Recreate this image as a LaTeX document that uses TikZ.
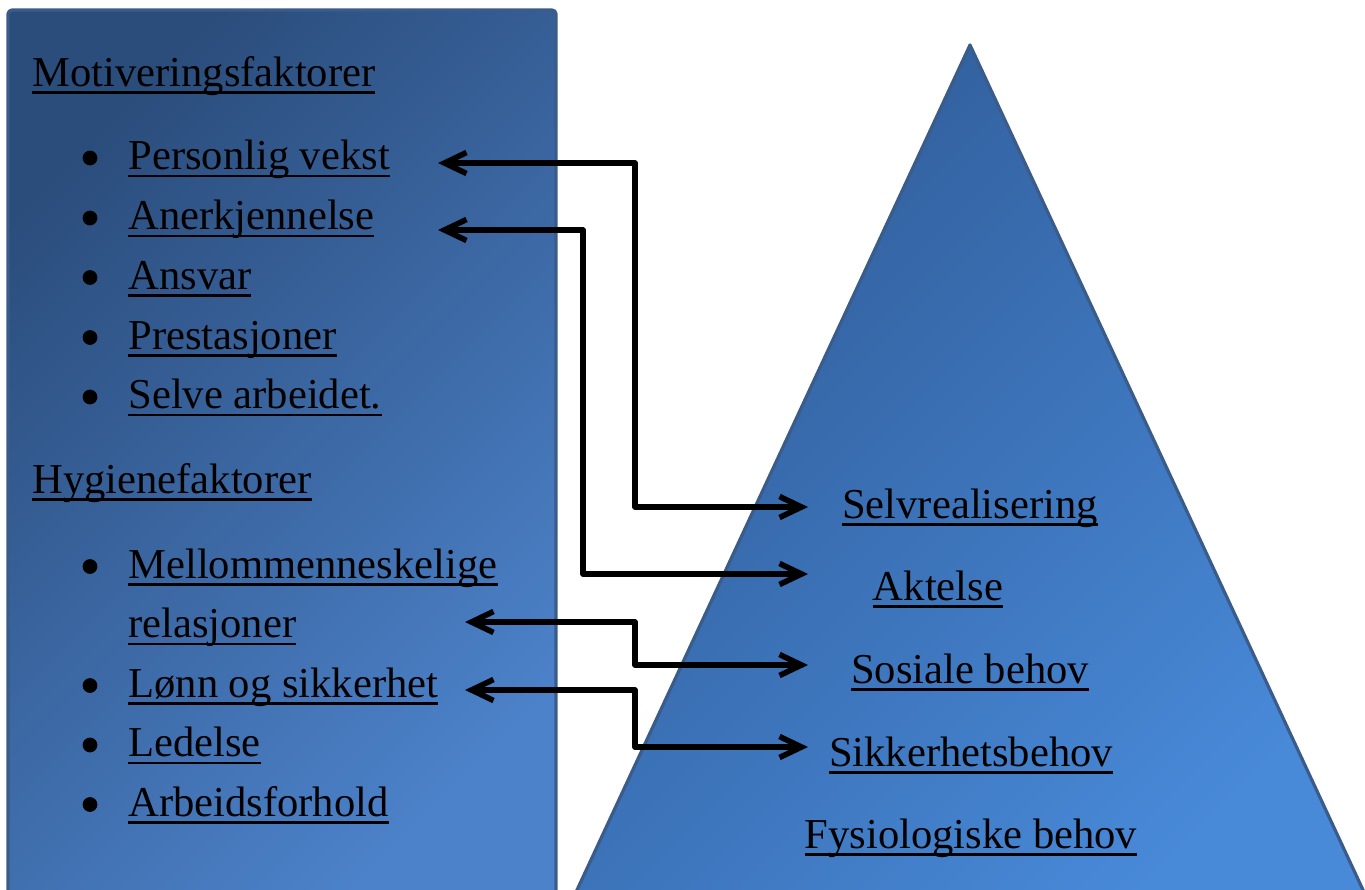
\documentclass[tikz,border=0pt]{standalone}
\usepackage{fontspec}
\setmainfont{Liberation Serif}
\usetikzlibrary{arrows.meta}

\definecolor{boxdark}{RGB}{43,77,124}
\definecolor{boxlight}{RGB}{76,130,202}
\definecolor{tridark}{RGB}{48,92,152}
\definecolor{trilight}{RGB}{72,137,216}
\definecolor{edgeblue}{RGB}{58,92,138}

% underline close under the baseline
\newcommand\ulword[1]{\setbox0\hbox{#1}\rlap{\rule[-3.9pt]{\wd0}{1.3pt}}\box0}

\begin{document}
\begin{tikzpicture}[
	x=0.5pt, y=-0.5pt,
	txt/.style={inner sep=0pt, font=\fontsize{21.3pt}{25pt}\selectfont},
	item/.style={txt, anchor=base west},
	need/.style={txt, anchor=base},
	panel/.style={line width=1.6pt, draw=edgeblue, line join=round, top color=#1dark, bottom color=#1light, shading angle=45},
	link/.style={>={Straight Barb[length=11pt,width=10.5pt]}, <->, line width=2.8pt, line join=round, line cap=round}
	]
	\useasboundingbox (0,0) rectangle (1365,889);
	\clip (0,0) rectangle (1365,889);

	% Panels
	\draw[panel=box, rounded corners=2pt] (8,10) rectangle (556,905);
	\draw[panel=tri] (970,45) -- (1370,905) -- (570,905) -- cycle;

	% Left list
	\node[item] (motiv) at (32,86) {\ulword{Motiveringsfaktorer}};
	\node[item] (vekst) at (128,169.5) {\ulword{Personlig vekst}};
	\node[item] (anerk) at (128,229.5) {\ulword{Anerkjennelse}};
	\node[item] (ansvar) at (128,289) {\ulword{Ansvar}};
	\node[item] (prest) at (128,349) {\ulword{Prestasjoner}};
	\node[item] (arbeid) at (128,408.5) {\ulword{Selve arbeidet.}};
	\node[item] (hygiene) at (32,493) {\ulword{Hygienefaktorer}};
	\node[item] (mellom) at (128,578) {\ulword{Mellommenneskelige}};
	\node[item] (relasj) at (128,637.5) {\ulword{relasjoner}};
	\node[item] (lonn) at (128,697) {\ulword{Lønn og sikkerhet}};
	\node[item] (ledelse) at (128,756.5) {\ulword{Ledelse}};
	\node[item] (arbforh) at (128,816) {\ulword{Arbeidsforhold}};

	\foreach \n in {vekst,anerk,ansvar,prest,arbeid,mellom,lonn,ledelse,arbforh}
		\fill ([xshift=-19pt,yshift=5.75pt]\n.base west) circle (3.7pt);

	% Pyramid levels
	\node[need] (selv) at (970,518) {\ulword{Selvrealisering}};
	\node[need] (aktelse) at (938,600) {\ulword{Aktelse}};
	\node[need] (sosial) at (970,683) {\ulword{Sosiale behov}};
	\node[need] (sikker) at (971,766) {\ulword{Sikkerhetsbehov}};
	\node[need] (fysio) at (971,848) {\ulword{Fysiologiske behov}};

	% Arrow ends
	\coordinate (colA) at (635,0);
	\coordinate (colB) at (583,0);
	\coordinate (vekstEnd) at (438,163);
	\coordinate (anerkEnd) at (438,230);
	\coordinate (relasjEnd) at (465,622);
	\coordinate (lonnEnd) at (465,690);
	\coordinate (selvEnd) at (808,507);
	\coordinate (aktelseEnd) at (808,574);
	\coordinate (sosialEnd) at (808,665);
	\coordinate (sikkerEnd) at (808,747);

	% Arrows
	\draw[link] (vekstEnd) -| (colA |- selvEnd) -- (selvEnd);
	\draw[link] (anerkEnd) -| (colB |- aktelseEnd) -- (aktelseEnd);
	\draw[link] (relasjEnd) -| (colA |- sosialEnd) -- (sosialEnd);
	\draw[link] (lonnEnd) -| (colA |- sikkerEnd) -- (sikkerEnd);

\end{tikzpicture}
\end{document}
